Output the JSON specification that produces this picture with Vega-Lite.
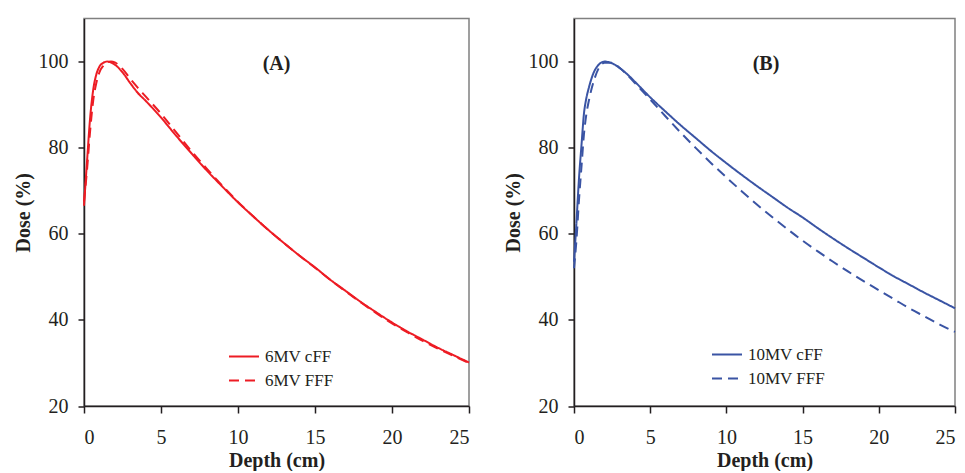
{
  "$schema": "https://vega.github.io/schema/vega-lite/v6.json",
  "padding": {"left": 12, "top": 17.5, "right": 5, "bottom": 0},
  "background": "white",
  "config": {
    "font": "Times New Roman, Liberation Serif, serif",
    "view": {"stroke": "#808080", "strokeWidth": 1.5},
    "axis": {
      "grid": false,
      "labelFont": "Times New Roman, Liberation Serif, serif",
      "labelFontSize": 20,
      "labelColor": "#231f20",
      "titleFont": "Times New Roman, Liberation Serif, serif",
      "titleFontSize": 20,
      "titleFontWeight": "bold",
      "titleColor": "#231f20",
      "domainColor": "#231f20",
      "domainWidth": 1.5,
      "tickColor": "#231f20",
      "tickWidth": 1.5,
      "tickSize": 6,
      "zindex": 1
    },
    "legend": {
      "orient": "none",
      "title": null,
      "labelFont": "Times New Roman, Liberation Serif, serif",
      "labelFontSize": 17,
      "labelColor": "#231f20",
      "symbolType": "stroke",
      "symbolSize": 900,
      "symbolStrokeWidth": 2,
      "labelOffset": 5,
      "rowPadding": -7
    }
  },
  "datasets": {
    "pdd": [
      {"panel": "A", "series": "6MV cFF", "depth": 0, "dose": 66.5},
      {"panel": "A", "series": "6MV cFF", "depth": 0.2, "dose": 77},
      {"panel": "A", "series": "6MV cFF", "depth": 0.4, "dose": 87},
      {"panel": "A", "series": "6MV cFF", "depth": 0.6, "dose": 93.5},
      {"panel": "A", "series": "6MV cFF", "depth": 0.8, "dose": 97},
      {"panel": "A", "series": "6MV cFF", "depth": 1.0, "dose": 98.8},
      {"panel": "A", "series": "6MV cFF", "depth": 1.25, "dose": 99.7},
      {"panel": "A", "series": "6MV cFF", "depth": 1.5, "dose": 100},
      {"panel": "A", "series": "6MV cFF", "depth": 1.75, "dose": 99.8},
      {"panel": "A", "series": "6MV cFF", "depth": 2.0, "dose": 99.3},
      {"panel": "A", "series": "6MV cFF", "depth": 2.5, "dose": 97.5},
      {"panel": "A", "series": "6MV cFF", "depth": 3.0, "dose": 95.0},
      {"panel": "A", "series": "6MV cFF", "depth": 3.5, "dose": 92.7},
      {"panel": "A", "series": "6MV cFF", "depth": 4.0, "dose": 90.9},
      {"panel": "A", "series": "6MV cFF", "depth": 5.0, "dose": 87.0},
      {"panel": "A", "series": "6MV cFF", "depth": 6.0, "dose": 82.7},
      {"panel": "A", "series": "6MV cFF", "depth": 7.0, "dose": 78.6},
      {"panel": "A", "series": "6MV cFF", "depth": 8.0, "dose": 74.6},
      {"panel": "A", "series": "6MV cFF", "depth": 9.0, "dose": 70.9},
      {"panel": "A", "series": "6MV cFF", "depth": 10.0, "dose": 67.3},
      {"panel": "A", "series": "6MV cFF", "depth": 11.0, "dose": 64.0},
      {"panel": "A", "series": "6MV cFF", "depth": 12.0, "dose": 60.8},
      {"panel": "A", "series": "6MV cFF", "depth": 13.0, "dose": 57.8},
      {"panel": "A", "series": "6MV cFF", "depth": 14.0, "dose": 54.9},
      {"panel": "A", "series": "6MV cFF", "depth": 15.0, "dose": 52.2},
      {"panel": "A", "series": "6MV cFF", "depth": 16.0, "dose": 49.3},
      {"panel": "A", "series": "6MV cFF", "depth": 17.0, "dose": 46.7},
      {"panel": "A", "series": "6MV cFF", "depth": 18.0, "dose": 44.1},
      {"panel": "A", "series": "6MV cFF", "depth": 19.0, "dose": 41.7},
      {"panel": "A", "series": "6MV cFF", "depth": 20.0, "dose": 39.4},
      {"panel": "A", "series": "6MV cFF", "depth": 21.0, "dose": 37.3},
      {"panel": "A", "series": "6MV cFF", "depth": 22.0, "dose": 35.4},
      {"panel": "A", "series": "6MV cFF", "depth": 23.0, "dose": 33.5},
      {"panel": "A", "series": "6MV cFF", "depth": 24.0, "dose": 31.8},
      {"panel": "A", "series": "6MV cFF", "depth": 25.0, "dose": 30.1},
      {"panel": "A", "series": "6MV FFF", "depth": 0, "dose": 67.5},
      {"panel": "A", "series": "6MV FFF", "depth": 0.2, "dose": 75},
      {"panel": "A", "series": "6MV FFF", "depth": 0.4, "dose": 84},
      {"panel": "A", "series": "6MV FFF", "depth": 0.6, "dose": 91},
      {"panel": "A", "series": "6MV FFF", "depth": 0.8, "dose": 95},
      {"panel": "A", "series": "6MV FFF", "depth": 1.0, "dose": 97.5},
      {"panel": "A", "series": "6MV FFF", "depth": 1.25, "dose": 99},
      {"panel": "A", "series": "6MV FFF", "depth": 1.5, "dose": 99.8},
      {"panel": "A", "series": "6MV FFF", "depth": 1.75, "dose": 100},
      {"panel": "A", "series": "6MV FFF", "depth": 2.0, "dose": 99.8},
      {"panel": "A", "series": "6MV FFF", "depth": 2.5, "dose": 98.3},
      {"panel": "A", "series": "6MV FFF", "depth": 3.0, "dose": 96.0},
      {"panel": "A", "series": "6MV FFF", "depth": 3.5, "dose": 93.9},
      {"panel": "A", "series": "6MV FFF", "depth": 4.0, "dose": 91.9},
      {"panel": "A", "series": "6MV FFF", "depth": 5.0, "dose": 87.9},
      {"panel": "A", "series": "6MV FFF", "depth": 6.0, "dose": 83.5},
      {"panel": "A", "series": "6MV FFF", "depth": 7.0, "dose": 79.1},
      {"panel": "A", "series": "6MV FFF", "depth": 8.0, "dose": 75.0},
      {"panel": "A", "series": "6MV FFF", "depth": 9.0, "dose": 71.1},
      {"panel": "A", "series": "6MV FFF", "depth": 10.0, "dose": 67.4},
      {"panel": "A", "series": "6MV FFF", "depth": 11.0, "dose": 64.0},
      {"panel": "A", "series": "6MV FFF", "depth": 12.0, "dose": 60.8},
      {"panel": "A", "series": "6MV FFF", "depth": 13.0, "dose": 57.8},
      {"panel": "A", "series": "6MV FFF", "depth": 14.0, "dose": 54.9},
      {"panel": "A", "series": "6MV FFF", "depth": 15.0, "dose": 52.1},
      {"panel": "A", "series": "6MV FFF", "depth": 16.0, "dose": 49.3},
      {"panel": "A", "series": "6MV FFF", "depth": 17.0, "dose": 46.6},
      {"panel": "A", "series": "6MV FFF", "depth": 18.0, "dose": 44.0},
      {"panel": "A", "series": "6MV FFF", "depth": 19.0, "dose": 41.5},
      {"panel": "A", "series": "6MV FFF", "depth": 20.0, "dose": 39.2},
      {"panel": "A", "series": "6MV FFF", "depth": 21.0, "dose": 37.1},
      {"panel": "A", "series": "6MV FFF", "depth": 22.0, "dose": 35.1},
      {"panel": "A", "series": "6MV FFF", "depth": 23.0, "dose": 33.3},
      {"panel": "A", "series": "6MV FFF", "depth": 24.0, "dose": 31.6},
      {"panel": "A", "series": "6MV FFF", "depth": 25.0, "dose": 30.0},
      {"panel": "B", "series": "10MV cFF", "depth": 0, "dose": 53.5},
      {"panel": "B", "series": "10MV cFF", "depth": 0.15, "dose": 62},
      {"panel": "B", "series": "10MV cFF", "depth": 0.33, "dose": 73},
      {"panel": "B", "series": "10MV cFF", "depth": 0.5, "dose": 81},
      {"panel": "B", "series": "10MV cFF", "depth": 0.65, "dose": 87.8},
      {"panel": "B", "series": "10MV cFF", "depth": 0.8, "dose": 91.3},
      {"panel": "B", "series": "10MV cFF", "depth": 0.98, "dose": 94},
      {"panel": "B", "series": "10MV cFF", "depth": 1.3, "dose": 97.5},
      {"panel": "B", "series": "10MV cFF", "depth": 1.6, "dose": 99.2},
      {"panel": "B", "series": "10MV cFF", "depth": 2.0, "dose": 100},
      {"panel": "B", "series": "10MV cFF", "depth": 2.5, "dose": 99.6},
      {"panel": "B", "series": "10MV cFF", "depth": 3.0, "dose": 98.5},
      {"panel": "B", "series": "10MV cFF", "depth": 3.6, "dose": 96.7},
      {"panel": "B", "series": "10MV cFF", "depth": 4.0, "dose": 95.3},
      {"panel": "B", "series": "10MV cFF", "depth": 5.0, "dose": 91.7},
      {"panel": "B", "series": "10MV cFF", "depth": 6.0, "dose": 88.4},
      {"panel": "B", "series": "10MV cFF", "depth": 7.0, "dose": 85.2},
      {"panel": "B", "series": "10MV cFF", "depth": 8.0, "dose": 82.2},
      {"panel": "B", "series": "10MV cFF", "depth": 9.0, "dose": 79.2},
      {"panel": "B", "series": "10MV cFF", "depth": 10.0, "dose": 76.4},
      {"panel": "B", "series": "10MV cFF", "depth": 11.0, "dose": 73.7},
      {"panel": "B", "series": "10MV cFF", "depth": 12.0, "dose": 71.1},
      {"panel": "B", "series": "10MV cFF", "depth": 13.0, "dose": 68.6},
      {"panel": "B", "series": "10MV cFF", "depth": 14.0, "dose": 66.1},
      {"panel": "B", "series": "10MV cFF", "depth": 15.0, "dose": 63.8},
      {"panel": "B", "series": "10MV cFF", "depth": 16.0, "dose": 61.3},
      {"panel": "B", "series": "10MV cFF", "depth": 17.0, "dose": 58.9},
      {"panel": "B", "series": "10MV cFF", "depth": 18.0, "dose": 56.6},
      {"panel": "B", "series": "10MV cFF", "depth": 19.0, "dose": 54.4},
      {"panel": "B", "series": "10MV cFF", "depth": 20.0, "dose": 52.2},
      {"panel": "B", "series": "10MV cFF", "depth": 21.0, "dose": 50.1},
      {"panel": "B", "series": "10MV cFF", "depth": 22.0, "dose": 48.2},
      {"panel": "B", "series": "10MV cFF", "depth": 23.0, "dose": 46.3},
      {"panel": "B", "series": "10MV cFF", "depth": 24.0, "dose": 44.5},
      {"panel": "B", "series": "10MV cFF", "depth": 25.0, "dose": 42.7},
      {"panel": "B", "series": "10MV FFF", "depth": 0, "dose": 52},
      {"panel": "B", "series": "10MV FFF", "depth": 0.15, "dose": 58},
      {"panel": "B", "series": "10MV FFF", "depth": 0.33, "dose": 68},
      {"panel": "B", "series": "10MV FFF", "depth": 0.5, "dose": 76},
      {"panel": "B", "series": "10MV FFF", "depth": 0.65, "dose": 83},
      {"panel": "B", "series": "10MV FFF", "depth": 0.8, "dose": 87.5},
      {"panel": "B", "series": "10MV FFF", "depth": 0.98, "dose": 91},
      {"panel": "B", "series": "10MV FFF", "depth": 1.3, "dose": 95.5},
      {"panel": "B", "series": "10MV FFF", "depth": 1.6, "dose": 98.3},
      {"panel": "B", "series": "10MV FFF", "depth": 2.0, "dose": 99.7},
      {"panel": "B", "series": "10MV FFF", "depth": 2.5, "dose": 99.7},
      {"panel": "B", "series": "10MV FFF", "depth": 3.0, "dose": 98.5},
      {"panel": "B", "series": "10MV FFF", "depth": 3.6, "dose": 96.5},
      {"panel": "B", "series": "10MV FFF", "depth": 4.0, "dose": 95.0},
      {"panel": "B", "series": "10MV FFF", "depth": 5.0, "dose": 91.2},
      {"panel": "B", "series": "10MV FFF", "depth": 6.0, "dose": 87.3},
      {"panel": "B", "series": "10MV FFF", "depth": 7.0, "dose": 83.5},
      {"panel": "B", "series": "10MV FFF", "depth": 8.0, "dose": 79.9},
      {"panel": "B", "series": "10MV FFF", "depth": 9.0, "dose": 76.4},
      {"panel": "B", "series": "10MV FFF", "depth": 10.0, "dose": 73.1},
      {"panel": "B", "series": "10MV FFF", "depth": 11.0, "dose": 69.9},
      {"panel": "B", "series": "10MV FFF", "depth": 12.0, "dose": 66.8},
      {"panel": "B", "series": "10MV FFF", "depth": 13.0, "dose": 63.9},
      {"panel": "B", "series": "10MV FFF", "depth": 14.0, "dose": 61.1},
      {"panel": "B", "series": "10MV FFF", "depth": 15.0, "dose": 58.4},
      {"panel": "B", "series": "10MV FFF", "depth": 16.0, "dose": 55.9},
      {"panel": "B", "series": "10MV FFF", "depth": 17.0, "dose": 53.5},
      {"panel": "B", "series": "10MV FFF", "depth": 18.0, "dose": 51.2},
      {"panel": "B", "series": "10MV FFF", "depth": 19.0, "dose": 49.0},
      {"panel": "B", "series": "10MV FFF", "depth": 20.0, "dose": 46.9},
      {"panel": "B", "series": "10MV FFF", "depth": 21.0, "dose": 44.8},
      {"panel": "B", "series": "10MV FFF", "depth": 22.0, "dose": 42.7},
      {"panel": "B", "series": "10MV FFF", "depth": 23.0, "dose": 40.8},
      {"panel": "B", "series": "10MV FFF", "depth": 24.0, "dose": 38.9},
      {"panel": "B", "series": "10MV FFF", "depth": 25.0, "dose": 37.2}
    ],
    "labels": [
      {"panel": "A", "depth": 12.5, "dose": 99.5, "label": "(A)"},
      {"panel": "B", "depth": 12.6, "dose": 99.5, "label": "(B)"}
    ]
  },
  "spacing": 105,
  "bounds": "flush",
  "resolve": {
    "scale": {"color": "independent", "strokeDash": "independent"},
    "legend": {"color": "independent", "strokeDash": "independent"}
  },
  "hconcat": [
    {
      "width": 385,
      "height": 387.5,
      "layer": [
        {
          "data": {"name": "pdd"},
          "transform": [{"filter": "datum.panel == 'A'"}],
          "mark": {"type": "line", "strokeWidth": 2, "interpolate": "monotone"},
          "encoding": {
            "x": {"field": "depth", "type": "quantitative", "title": "Depth (cm)",
                  "scale": {"domain": [0, 25], "nice": false},
                  "axis": {"values": [0, 5, 10, 15, 20, 25], "labelPadding": 14, "titlePadding": 3, "tickSize": 7}},
            "y": {"field": "dose", "type": "quantitative", "title": "Dose (%)",
                  "scale": {"domain": [20, 110], "nice": false},
                  "axis": {"values": [20, 40, 60, 80, 100], "labelPadding": 10, "titlePadding": 5}},
            "color": {"field": "series", "type": "nominal",
                      "scale": {"domain": ["6MV cFF", "6MV FFF"], "range": ["#ed1c24", "#ed1c24"]},
                      "legend": {"legendX": 144, "legendY": 322}},
            "strokeDash": {"field": "series", "type": "nominal",
                      "scale": {"domain": ["6MV cFF", "6MV FFF"], "range": [[1, 0], [10, 6]]},
                      "legend": {"legendX": 144, "legendY": 322}}
          }
        },
        {
          "data": {"name": "labels"},
          "transform": [{"filter": "datum.panel == 'A'"}],
          "mark": {"type": "text", "font": "Times New Roman, Liberation Serif, serif", "fontSize": 20, "fontWeight": "bold", "color": "#231f20"},
          "encoding": {
            "x": {"field": "depth", "type": "quantitative"},
            "y": {"field": "dose", "type": "quantitative"},
            "text": {"field": "label"}
          }
        }
      ]
    },
    {
      "width": 381,
      "height": 387.5,
      "layer": [
        {
          "data": {"name": "pdd"},
          "transform": [{"filter": "datum.panel == 'B'"}],
          "mark": {"type": "line", "strokeWidth": 2, "interpolate": "monotone"},
          "encoding": {
            "x": {"field": "depth", "type": "quantitative", "title": "Depth (cm)",
                  "scale": {"domain": [0, 25], "nice": false},
                  "axis": {"values": [0, 5, 10, 15, 20, 25], "labelPadding": 14, "titlePadding": 3, "tickSize": 7}},
            "y": {"field": "dose", "type": "quantitative", "title": "Dose (%)",
                  "scale": {"domain": [20, 110], "nice": false},
                  "axis": {"values": [20, 40, 60, 80, 100], "labelPadding": 10, "titlePadding": 5}},
            "color": {"field": "series", "type": "nominal",
                      "scale": {"domain": ["10MV cFF", "10MV FFF"], "range": ["#3a54a4", "#3a54a4"]},
                      "legend": {"legendX": 137, "legendY": 320}},
            "strokeDash": {"field": "series", "type": "nominal",
                      "scale": {"domain": ["10MV cFF", "10MV FFF"], "range": [[1, 0], [10, 6]]},
                      "legend": {"legendX": 137, "legendY": 320}}
          }
        },
        {
          "data": {"name": "labels"},
          "transform": [{"filter": "datum.panel == 'B'"}],
          "mark": {"type": "text", "font": "Times New Roman, Liberation Serif, serif", "fontSize": 20, "fontWeight": "bold", "color": "#231f20"},
          "encoding": {
            "x": {"field": "depth", "type": "quantitative"},
            "y": {"field": "dose", "type": "quantitative"},
            "text": {"field": "label"}
          }
        }
      ]
    }
  ]
}
